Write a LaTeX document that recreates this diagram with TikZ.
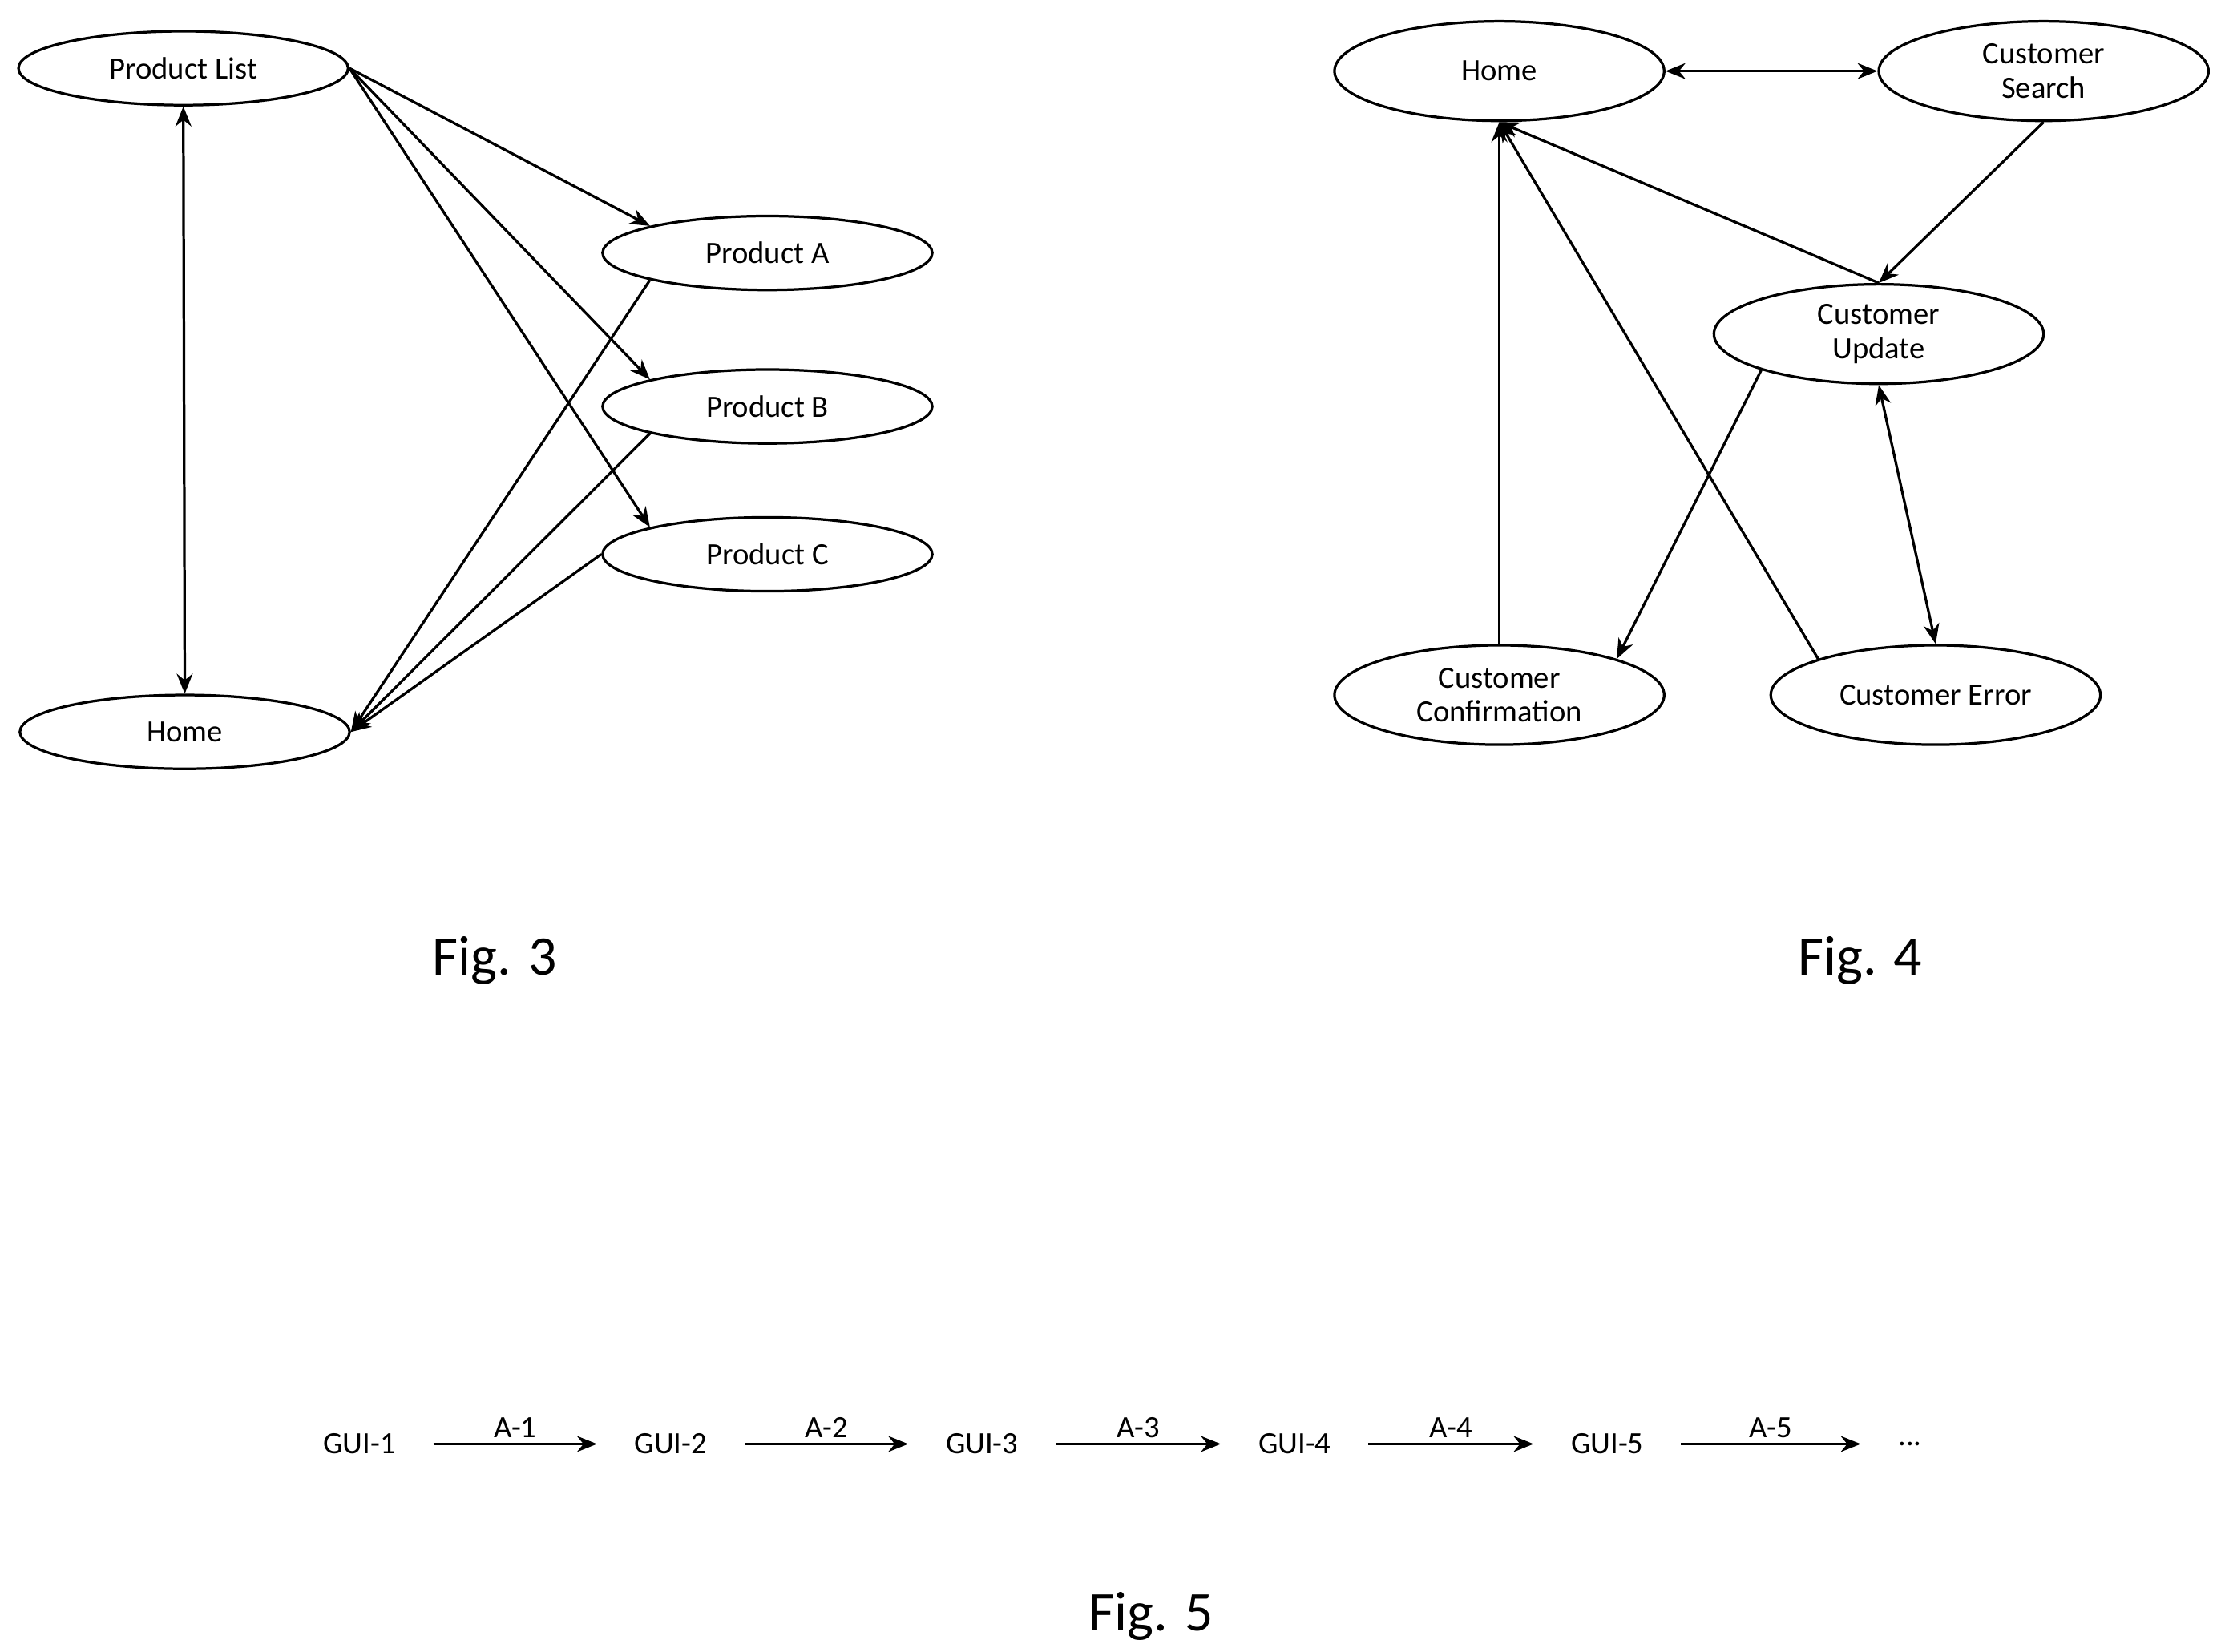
\documentclass[tikz,border=0pt]{standalone}
\usepackage{fontspec}
\setmainfont{Carlito}
\usetikzlibrary{shapes.geometric,arrows.meta}
\begin{document}
\begin{tikzpicture}[x=0.5mm,y=-0.5mm,
  st/.style={ellipse,draw,line width=2.6pt,minimum width=116mm,minimum height=26mm,inner sep=0pt,font=\fontsize{31}{34}\selectfont,align=center},
  big/.style={st,minimum height=35mm},
  ar/.style={line width=2.6pt,-{Stealth[length=20pt,width=16pt]}},
  dar/.style={line width=2.6pt,{Stealth[length=20pt,width=16pt]}-{Stealth[length=20pt,width=16pt]}},
  lab/.style={font=\fontsize{31}{34}\selectfont},
  fig/.style={font=\fontsize{56}{60}\selectfont}]
\useasboundingbox (0,0) rectangle (1560,1162);
% Fig 3
\node[st] (pl) at (129,48) {Product List};
\node[st] (h3) at (130,515) {Home};
\node[st] (pa) at (540,178) {Product A};
\node[st] (pb) at (540,286) {Product B};
\node[st] (pc) at (540,390) {Product C};
\draw[ar] (pl.east) -- (pa.north west);
\draw[ar] (pl.east) -- (pb.north west);
\draw[ar] (pl.east) -- (pc.north west);
\draw[ar] (pa.south west) -- (h3.east);
\draw[ar] (pb.south west) -- (h3.east);
\draw[ar] (pc.west) -- (h3.east);
\draw[dar] (pl.south) -- (h3.north);
\node[fig] (f3) at (348,676) {Fig. 3};
% Fig 4
\node[big] (h4) at (1055,50) {Home};
\node[big] (cs) at (1438,50) {Customer\\Search};
\node[big] (cu) at (1322,235) {Customer\\Update};
\node[big] (cc) at (1055,489) {Customer\\Confirmation};
\node[big] (ce) at (1362,489) {Customer Error};
\draw[dar] (h4.east) -- (cs.west);
\draw[ar] (cs.south) -- (cu.north);
\draw[ar] (cu.north) -- (h4.south);
\draw[ar] (cc.north) -- (h4.south);
\draw[ar] (ce.north west) -- (h4.south);
\draw[ar] (cu.south west) -- (cc.north east);
\draw[dar] (cu.south) -- (ce.north);
\node[fig] (f4) at (1309,676) {Fig. 4};
% Fig 5
\foreach \i/\x in {1/253,2/472,3/691,4/911,5/1131}{
  \node[lab,anchor=center] (g\i) at (\x,1016) {GUI-\i};
}
\node[lab] (g6) at (1344,1016) {...};
\foreach \i/\j in {1/2,2/3,3/4,4/5,5/6}{
  \draw[ar,line width=2pt] ([xshift=12mm]g\i.east) -- node[lab,above=2pt] {A-\i} ([xshift=-12mm]g\j.west);
}
\node[fig] (f5) at (810,1137) {Fig. 5};
\end{tikzpicture}
\end{document}
